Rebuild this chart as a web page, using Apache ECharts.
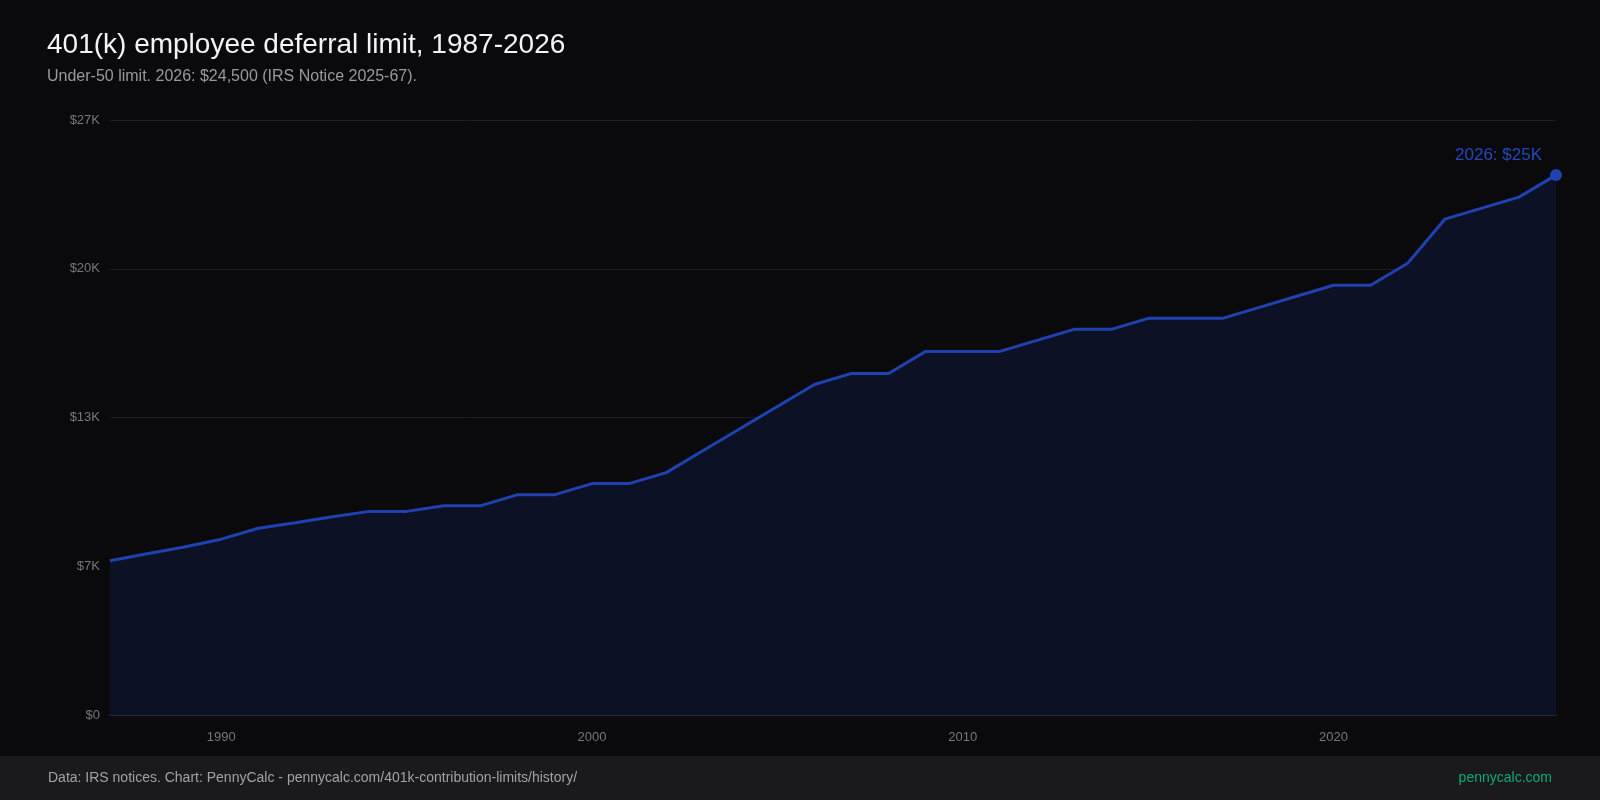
<!DOCTYPE html>
<html>
<head>
<meta charset="utf-8">
<script src="https://cdn.jsdelivr.net/npm/echarts@6/dist/echarts.min.js"></script>
<style>
  html, body { margin: 0; padding: 0; background: #0a0a0c; }
  #chart { width: 1600px; height: 800px; }
</style>
</head>
<body>
<div id="chart"></div>
<script>
// years and under-50 deferral limits (USD)
var years = [1987, 1988, 1989, 1990, 1991, 1992, 1993, 1994, 1995, 1996,
             1997, 1998, 1999, 2000, 2001, 2002, 2003, 2004, 2005, 2006,
             2007, 2008, 2009, 2010, 2011, 2012, 2013, 2014, 2015, 2016,
             2017, 2018, 2019, 2020, 2021, 2022, 2023, 2024, 2025, 2026];
var limits = [7000, 7313, 7627, 7979, 8475, 8728, 8994, 9240, 9240, 9500,
              9500, 10000, 10000, 10500, 10500, 11000, 12000, 13000, 14000, 15000,
              15500, 15500, 16500, 16500, 16500, 17000, 17500, 17500, 18000, 18000,
              18000, 18500, 19000, 19500, 19500, 20500, 22500, 23000, 23500, 24500];
var yTickLabels = ['$0', '$7K', '$13K', '$20K', '$27K'];
var yMax = 27000;
var yStep = 6750;
var endLabel = '2026: $25K';

var font = "'Liberation Sans', Arial, Helvetica, sans-serif";
var lineColor = '#1f42b0';

var chart = echarts.init(document.getElementById('chart'));

var seriesData = limits.map(function(v, i) {
    if (i === limits.length - 1) {
        return {
            value: v,
            symbol: 'circle',
            symbolSize: 12,
            itemStyle: { color: lineColor },
            label: {
                show: true,
                position: 'top',
                align: 'right',
                offset: [-14, 0],
                formatter: endLabel,
                color: '#2448bc',
                fontSize: 17,
                fontFamily: font
            }
        };
    }
    return v;
});

var option = {
    backgroundColor: '#0a0a0c',
    animation: false,
    title: {
        text: '401(k) employee deferral limit, 1987-2026',
        subtext: 'Under-50 limit. 2026: $24,500 (IRS Notice 2025-67).',
        left: 47,
        top: 29,
        itemGap: 6,
        padding: 0,
        textStyle: {
            color: '#f4f4f4',
            fontSize: 28,
            fontWeight: 'normal',
            fontFamily: font,
            lineHeight: 32
        },
        subtextStyle: {
            color: '#9a9a9e',
            fontSize: 16,
            fontFamily: font,
            lineHeight: 20
        }
    },
    grid: {
        left: 110,
        right: 44,
        top: 120,
        bottom: 85,
        containLabel: false
    },
    xAxis: {
        type: 'category',
        data: years,
        boundaryGap: false,
        axisLine: { show: true, lineStyle: { color: '#2a2a36', width: 2 } },
        axisTick: { show: false },
        splitLine: { show: false },
        axisLabel: {
            color: '#78787c',
            fontSize: 13,
            fontFamily: font,
            margin: 16,
            interval: function(index, value) {
                return Number(value) % 10 === 0;
            }
        }
    },
    yAxis: {
        type: 'value',
        min: 0,
        max: yMax,
        interval: yStep,
        axisLine: { show: false },
        axisTick: { show: false },
        splitLine: { lineStyle: { color: '#1c1c21', width: 1 } },
        axisLabel: {
            color: '#78787c',
            fontSize: 13,
            fontFamily: font,
            margin: 10,
            formatter: function(v) {
                return yTickLabels[Math.round(v / yStep)];
            }
        }
    },
    series: [{
        type: 'line',
        data: seriesData,
        showSymbol: true,
        symbol: 'none',
        lineStyle: { color: lineColor, width: 3 },
        itemStyle: { color: lineColor },
        areaStyle: { color: '#0d1125', opacity: 1 },
        z: 3
    }],
    graphic: [
        {
            type: 'rect',
            left: 0,
            top: 756,
            shape: { width: 1600, height: 44 },
            style: { fill: '#1a1a1c' },
            silent: true
        },
        {
            type: 'text',
            left: 48,
            top: 771,
            style: {
                text: 'Data: IRS notices. Chart: PennyCalc - pennycalc.com/401k-contribution-limits/history/',
                fill: '#a2a2a6',
                fontSize: 14,
                fontFamily: font
            }
        },
        {
            type: 'text',
            right: 48,
            top: 771,
            style: {
                text: 'pennycalc.com',
                fill: '#12a877',
                fontSize: 14,
                fontFamily: font
            }
        }
    ]
};

chart.setOption(option);
</script>
</body>
</html>
